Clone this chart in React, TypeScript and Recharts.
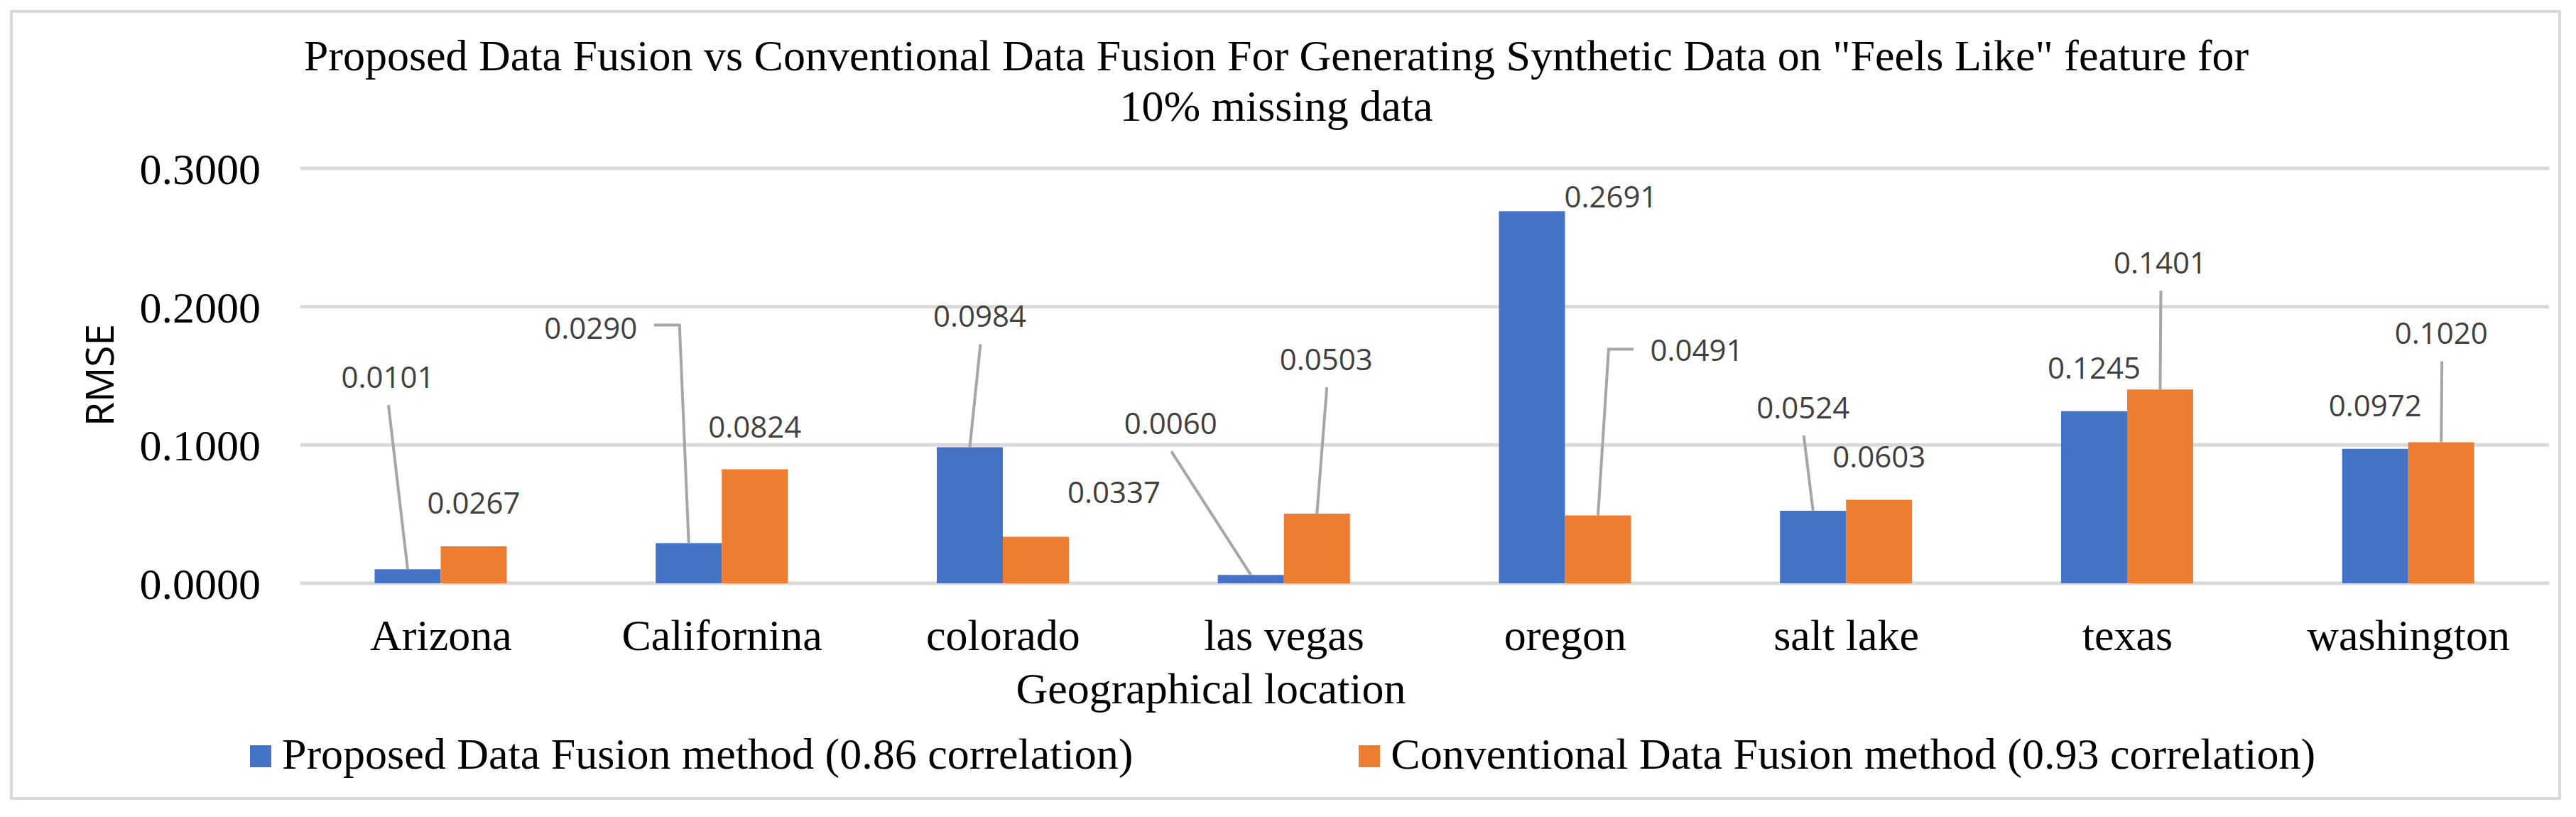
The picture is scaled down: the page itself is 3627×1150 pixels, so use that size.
import React from 'react';
import { BarChart, Bar, XAxis, YAxis, CartesianGrid, Legend, LabelList } from 'recharts';

const locations = ['Arizona', 'Californina', 'colorado', 'las vegas', 'oregon', 'salt lake', 'texas', 'washington'];
const proposedRmse = [0.0101, 0.029, 0.0984, 0.006, 0.2691, 0.0524, 0.1245, 0.0972];
const conventionalRmse = [0.0267, 0.0824, 0.0337, 0.0503, 0.0491, 0.0603, 0.1401, 0.102];
const yTicks = [0, 0.1, 0.2, 0.3];

const titleLines = [
    'Proposed Data Fusion vs Conventional Data Fusion For Generating Synthetic Data on "Feels Like" feature for',
    '10% missing data',
];
const proposedName = 'Proposed Data Fusion method (0.86 correlation)';
const conventionalName = 'Conventional Data Fusion method (0.93 correlation)';
const legendOrder = [proposedName, conventionalName];

const data = locations.map((name, i) => ({
    name,
    proposed: proposedRmse[i],
    conventional: conventionalRmse[i],
}));

// the labels were dragged around by hand in the original, so keep their offsets from the bar top
type Spot = { dx: number; dy: number; leader?: 'line' | 'elbowR' | 'elbowL' };
const proposedSpots: Spot[] = [
    { dx: -28, dy: -270, leader: 'line' },
    { dx: -138, dy: -303, leader: 'elbowR' },
    { dx: 14, dy: -184, leader: 'line' },
    { dx: -113, dy: -213, leader: 'line' },
    { dx: 111, dy: -20 },
    { dx: -14, dy: -145, leader: 'line' },
    { dx: 0, dy: -61 },
    { dx: 0, dy: -61 },
];
const conventionalSpots: Spot[] = [
    { dx: 0, dy: -61 },
    { dx: 0, dy: -60 },
    { dx: 110, dy: -62 },
    { dx: 13, dy: -217, leader: 'line' },
    { dx: 139, dy: -232, leader: 'elbowL' },
    { dx: 0, dy: -61 },
    { dx: 0, dy: -178, leader: 'line' },
    { dx: 0, dy: -153, leader: 'line' },
];

const SERIF = "'Liberation Serif', 'Times New Roman', serif";
const SANS = "'Open Sans', sans-serif";

const makeLabel = (spots: Spot[]) => (props: any) => {
    const { x, y, width, value, index } = props;
    const cx = Number(x) + Number(width) / 2;
    const top = Number(y);
    const s = spots[index];
    const lx = cx + s.dx;
    const ly = top + s.dy;
    let d = '';
    if (s.leader === 'line') d = `M${lx + 1},${ly + 39}L${cx},${top}`;
    if (s.leader === 'elbowR') d = `M${lx + 89},${ly - 4}H${lx + 125}L${cx},${top}`;
    if (s.leader === 'elbowL') d = `M${lx - 89},${ly - 2}H${lx - 124}L${cx},${top}`;
    return (
        <g>
            {d && <path d={d} stroke="#a6a6a6" strokeWidth={4} fill="none" />}
            <text x={lx} y={ly + 15} textAnchor="middle" fontFamily={SANS} fontSize={42} fill="#404040">
                {Number(value).toFixed(4)}
            </text>
        </g>
    );
};

const renderLegend = (props: any) => {
    const items = [...(props.payload || [])].sort(
        (a: any, b: any) => legendOrder.indexOf(a.value) - legendOrder.indexOf(b.value)
    );
    return (
        <div
            style={{
                display: 'flex',
                justifyContent: 'center',
                gap: 318,
                fontFamily: SERIF,
                fontSize: 62,
                lineHeight: '62px',
                color: '#000',
            }}
        >
            {items.map((p: any) => (
                <div key={p.value} style={{ display: 'flex', alignItems: 'center' }}>
                    <span style={{ display: 'inline-block', width: 30, height: 31, background: p.color, marginRight: 15, marginTop: 6 }} />
                    <span>{p.value}</span>
                </div>
            ))}
        </div>
    );
};

export default function App() {
    return (
        <div style={{ position: 'absolute', left: 0, top: 0, width: 3627, height: 1150, background: '#fff' }}>
            <div
                style={{
                    position: 'absolute',
                    left: 14,
                    top: 14,
                    width: 3592,
                    height: 1112,
                    border: '4px solid #d9d9d9',
                    boxSizing: 'border-box',
                }}
            />
            <div style={{ position: 'absolute', left: 0, top: 0 }}>
                <BarChart
                    width={3627}
                    height={1150}
                    data={data}
                    margin={{ top: 237, right: 38, bottom: 269, left: 0 }}
                    barCategoryGap="26.4%"
                    barGap={0}
                >
                    <CartesianGrid vertical={false} stroke="#d9d9d9" strokeWidth={5} />
                    <XAxis
                        dataKey="name"
                        height={60}
                        axisLine={false}
                        tickLine={false}
                        tickSize={0}
                        tickMargin={50}
                        tick={{ fontFamily: SERIF, fontSize: 62, fill: '#000' }}
                        interval={0}
                    />
                    <YAxis
                        width={423}
                        domain={[0, 0.3]}
                        ticks={yTicks}
                        axisLine={false}
                        tickLine={false}
                        tickSize={0}
                        tickMargin={56}
                        tickFormatter={(v: number) => v.toFixed(4)}
                        tick={{ fontFamily: SERIF, fontSize: 62, fill: '#000' }}
                    />
                    <Legend
                        layout="horizontal"
                        align="center"
                        verticalAlign="middle"
                        content={renderLegend}
                        wrapperStyle={{ left: 0, top: 1030, width: 3612 }}
                    />
                    <Bar dataKey="proposed" name={proposedName} fill="#4472c4" isAnimationActive={false}>
                        <LabelList dataKey="proposed" content={makeLabel(proposedSpots)} />
                    </Bar>
                    <Bar dataKey="conventional" name={conventionalName} fill="#ed7d31" isAnimationActive={false}>
                        <LabelList dataKey="conventional" content={makeLabel(conventionalSpots)} />
                    </Bar>
                    <text x={1797} y={99} textAnchor="middle" fontFamily={SERIF} fontSize={62} fill="#000">
                        {titleLines[0]}
                    </text>
                    <text x={1797} y={170} textAnchor="middle" fontFamily={SERIF} fontSize={62} fill="#000">
                        {titleLines[1]}
                    </text>
                    <text x={1705} y={990} textAnchor="middle" fontFamily={SERIF} fontSize={62} fill="#000">
                        Geographical location
                    </text>
                    <text
                        x={0}
                        y={0}
                        transform="translate(160,528) rotate(-90)"
                        textAnchor="middle"
                        fontFamily={SANS}
                        fontSize={55}
                        fill="#000"
                    >
                        RMSE
                    </text>
                </BarChart>
            </div>
        </div>
    );
}
